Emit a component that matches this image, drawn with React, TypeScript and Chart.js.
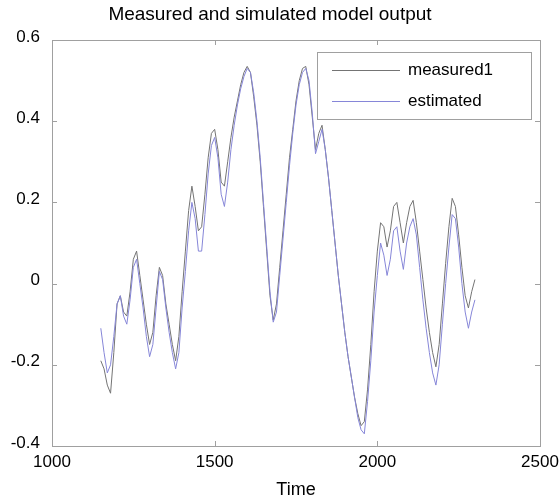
import React, { useEffect, useRef } from "react";
import { Chart, registerables } from "chart.js";

Chart.register(...registerables);

const TITLE = "Measured and simulated model output";
const X_LABEL = "Time";
const SERIES_NAMES = ["measured1", "estimated"];

const times = [
  1150, 1160, 1170, 1180, 1190, 1200, 1210, 1220, 1230, 1240,
  1250, 1260, 1270, 1280, 1290, 1300, 1310, 1320, 1330, 1340,
  1350, 1360, 1370, 1380, 1390, 1400, 1410, 1420, 1430, 1440,
  1450, 1460, 1470, 1480, 1490, 1500, 1510, 1520, 1530, 1540,
  1550, 1560, 1570, 1580, 1590, 1600, 1610, 1620, 1630, 1640,
  1650, 1660, 1670, 1680, 1690, 1700, 1710, 1720, 1730, 1740,
  1750, 1760, 1770, 1780, 1790, 1800, 1810, 1820, 1830, 1840,
  1850, 1860, 1870, 1880, 1890, 1900, 1910, 1920, 1930, 1940,
  1950, 1960, 1970, 1980, 1990, 2000, 2010, 2020, 2030, 2040,
  2050, 2060, 2070, 2080, 2090, 2100, 2110, 2120, 2130, 2140,
  2150, 2160, 2170, 2180, 2190, 2200, 2210, 2220, 2230, 2240,
  2250, 2260, 2270, 2280, 2290, 2300,
];

const measured1 = [
  -0.19, -0.21, -0.25, -0.27, -0.17, -0.05, -0.03, -0.07, -0.08, -0.02,
  0.06, 0.08, 0.02, -0.04, -0.10, -0.15, -0.12, -0.03, 0.04, 0.02,
  -0.05, -0.10, -0.15, -0.19, -0.13, -0.02, 0.08, 0.18, 0.24, 0.19,
  0.13, 0.14, 0.22, 0.31, 0.37, 0.38, 0.33, 0.25, 0.24, 0.30,
  0.36, 0.41, 0.45, 0.49, 0.52, 0.535, 0.52, 0.46, 0.39, 0.30,
  0.19, 0.08, -0.03, -0.09, -0.05, 0.04, 0.13, 0.22, 0.31, 0.38,
  0.45, 0.50, 0.53, 0.535, 0.49, 0.41, 0.33, 0.37, 0.39, 0.33,
  0.26, 0.18, 0.10, 0.02, -0.05, -0.12, -0.18, -0.23, -0.28, -0.32,
  -0.35, -0.34, -0.26, -0.15, -0.02, 0.08, 0.15, 0.14, 0.09, 0.13,
  0.19, 0.20, 0.15, 0.10, 0.15, 0.19, 0.205, 0.15, 0.08, 0.01,
  -0.06, -0.12, -0.17, -0.205, -0.15, -0.05, 0.05, 0.14, 0.21, 0.19,
  0.12, 0.04, -0.03, -0.06, -0.02, 0.01,
];

const estimated = [
  -0.11, -0.17, -0.22, -0.20, -0.13, -0.05, -0.03, -0.08, -0.10, -0.04,
  0.04, 0.06, 0.00, -0.06, -0.13, -0.18, -0.15, -0.06, 0.03, 0.01,
  -0.06, -0.12, -0.17, -0.21, -0.17, -0.06, 0.03, 0.13, 0.20, 0.16,
  0.08, 0.08, 0.17, 0.27, 0.34, 0.36, 0.31, 0.22, 0.19, 0.25,
  0.33, 0.39, 0.44, 0.48, 0.51, 0.53, 0.52, 0.47, 0.40, 0.31,
  0.20, 0.09, -0.02, -0.095, -0.07, 0.02, 0.11, 0.20, 0.29, 0.37,
  0.44, 0.49, 0.52, 0.53, 0.50, 0.42, 0.32, 0.35, 0.38, 0.33,
  0.26, 0.18, 0.10, 0.02, -0.05, -0.12, -0.18, -0.23, -0.28, -0.33,
  -0.36, -0.37, -0.29, -0.19, -0.07, 0.02, 0.10, 0.07, 0.02, 0.06,
  0.13, 0.14, 0.08, 0.035, 0.10, 0.14, 0.16, 0.12, 0.04, -0.04,
  -0.11, -0.17, -0.22, -0.25, -0.20, -0.10, 0.00, 0.09, 0.17, 0.16,
  0.09, 0.00, -0.07, -0.11, -0.07, -0.04,
];

const X_MIN = 1000;
const X_MAX = 2500;
const X_STEP = 500;
const Y_MIN = -0.4;
const Y_MAX = 0.6;
const Y_STEP = 0.2;

const FONT = "'Liberation Sans', Arial, Helvetica, sans-serif";
const MEASURED_COLOR = "#747474";
const ESTIMATED_COLOR = "#8686d8";
const BOX_COLOR = "#a0a0a0";

const frameAndLegend = {
  id: "frameAndLegend",
  afterDatasetsDraw(chart: any) {
    const { ctx, chartArea } = chart;
    const { left, right, top, bottom } = chartArea;
    const xs = chart.scales.x;
    const ys = chart.scales.y;
    ctx.save();
    ctx.strokeStyle = BOX_COLOR;
    ctx.lineWidth = 1;
    ctx.strokeRect(Math.round(left) + 0.5, Math.round(top) + 0.5, Math.round(right - left), Math.round(bottom - top));
    const tl = 5;
    ctx.beginPath();
    xs.ticks.forEach((t: any) => {
      const px = Math.round(xs.getPixelForValue(t.value)) + 0.5;
      ctx.moveTo(px, bottom);
      ctx.lineTo(px, bottom - tl);
      ctx.moveTo(px, top);
      ctx.lineTo(px, top + tl);
    });
    ys.ticks.forEach((t: any) => {
      const py = Math.round(ys.getPixelForValue(t.value)) + 0.5;
      ctx.moveTo(left, py);
      ctx.lineTo(left + tl, py);
      ctx.moveTo(right, py);
      ctx.lineTo(right - tl, py);
    });
    ctx.stroke();

    // legend box
    const lx = 317;
    const ly = 52;
    const lw = 214;
    const lh = 67;
    ctx.fillStyle = "#ffffff";
    ctx.fillRect(lx, ly, lw, lh);
    ctx.strokeStyle = BOX_COLOR;
    ctx.strokeRect(lx + 0.5, ly + 0.5, lw, lh);
    ctx.font = `17px ${FONT}`;
    ctx.textBaseline = "middle";
    ctx.textAlign = "left";
    chart.data.datasets.forEach((ds: any, i: number) => {
      const yy = ly + 18 + i * 31;
      ctx.strokeStyle = ds.borderColor;
      ctx.beginPath();
      ctx.moveTo(lx + 15, yy + 0.5);
      ctx.lineTo(lx + 83, yy + 0.5);
      ctx.stroke();
      ctx.fillStyle = "#000000";
      ctx.fillText(ds.label, lx + 91, yy);
    });
    ctx.restore();
  },
};

export default function App() {
  const ref = useRef<HTMLCanvasElement | null>(null);
  useEffect(() => {
    if (!ref.current) return;
    const chart = new Chart(ref.current, {
      type: "line",
      data: {
        datasets: [
          {
            label: SERIES_NAMES[0],
            data: times.map((t, i) => ({ x: t, y: measured1[i] })),
            borderColor: MEASURED_COLOR,
            borderWidth: 1,
            pointRadius: 0,
            tension: 0,
            fill: false,
            order: 1,
          },
          {
            label: SERIES_NAMES[1],
            data: times.map((t, i) => ({ x: t, y: estimated[i] })),
            borderColor: ESTIMATED_COLOR,
            borderWidth: 1,
            pointRadius: 0,
            tension: 0,
            fill: false,
            order: 0,
          },
        ],
      },
      options: {
        responsive: false,
        animation: false,
        layout: { padding: { left: 0, right: 20, top: 0, bottom: 0 } },
        plugins: {
          legend: { display: false },
          tooltip: { enabled: false },
          title: {
            display: true,
            text: TITLE,
            color: "#000000",
            font: { family: FONT, size: 19, weight: "normal", lineHeight: 1.2 },
            padding: { top: 3, bottom: 14.2 },
          },
        },
        scales: {
          x: {
            type: "linear",
            min: X_MIN,
            max: X_MAX,
            grid: { display: false, drawTicks: false },
            border: { display: false },
            ticks: {
              stepSize: X_STEP,
              color: "#000000",
              font: { family: FONT, size: 17 },
              padding: 6,
              maxRotation: 0,
              callback: (v: any) => String(v),
            },
            title: {
              display: true,
              text: X_LABEL,
              color: "#000000",
              font: { family: FONT, size: 18, lineHeight: 1.2 },
              padding: { top: 0, bottom: 3 },
            },
            afterFit: (s: any) => {
              s.height = 58;
              s.paddingLeft = 0;
              s.paddingRight = 0;
            },
          },
          y: {
            type: "linear",
            min: Y_MIN,
            max: Y_MAX,
            grid: { display: false, drawTicks: false },
            border: { display: false },
            ticks: {
              stepSize: Y_STEP,
              color: "#000000",
              font: { family: FONT, size: 17 },
              padding: 12,
              labelOffset: -3,
              callback: (v: any) => String(Number(Number(v).toFixed(1))),
            },
            afterFit: (s: any) => {
              s.width = 52;
              s.paddingTop = 0;
              s.paddingBottom = 0;
            },
          },
        },
      },
      plugins: [frameAndLegend],
    });
    return () => chart.destroy();
  }, []);
  return (
    <div style={{ position: "absolute", left: 0, top: 0, width: 560, height: 504, background: "#fff" }}>
      <canvas ref={ref} width={560} height={504} style={{ display: "block" }} />
    </div>
  );
}
